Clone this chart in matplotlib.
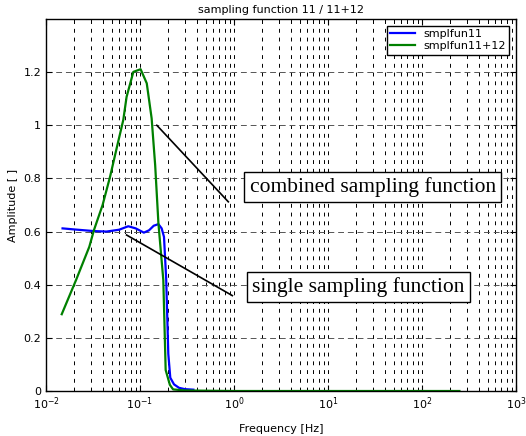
import numpy as np
import matplotlib.pyplot as plt
from matplotlib.ticker import LogLocator, NullFormatter

# single sampling function (smplfun11)
freq_single = [0.015, 0.02, 0.032, 0.044, 0.06, 0.075, 0.09, 0.11, 0.125, 0.14, 0.157,
               0.17, 0.18, 0.19, 0.2, 0.21, 0.23, 0.26, 0.3, 0.37]
amp_single = [0.612, 0.608, 0.602, 0.600, 0.607, 0.620, 0.612, 0.596, 0.605, 0.622, 0.628,
              0.612, 0.58, 0.42, 0.14, 0.05, 0.025, 0.012, 0.007, 0.005]

# combined sampling function (smplfun11+12)
freq_comb = [0.0147, 0.0209, 0.0289, 0.0324, 0.040, 0.048, 0.057, 0.0664, 0.072, 0.085,
             0.1015, 0.118, 0.133, 0.145, 0.157, 0.177, 0.1875, 0.208, 0.225, 0.3, 1, 10, 100, 250]
amp_comb = [0.289, 0.418, 0.543, 0.606, 0.70, 0.806, 0.92, 1.02, 1.107, 1.201,
            1.211, 1.158, 1.026, 0.85, 0.631, 0.418, 0.079, 0.023, 0.006, 0.002, 0.0, 0.0, 0.0, 0.0]

# annotation lines: (x0, y0, x1, y1)
arrow_combined = (0.151, 1.0, 0.87, 0.712)
arrow_single = (0.072, 0.587, 0.96, 0.359)

yticks = [0, 0.2, 0.4, 0.6, 0.8, 1.0, 1.2]
ylabels = ['0', '0.2', '0.4', '0.6', '0.8', '1', '1.2']

plt.rcParams['font.family'] = ['DejaVu Sans']

fig = plt.figure(figsize=(5.26, 4.36), dpi=100)
ax = fig.add_axes([46 / 526, 45 / 436, 470 / 526, 372 / 436])

ax.semilogx(freq_single, amp_single, color='#0000ff', lw=1.6, label='smplfun11')
ax.semilogx(freq_comb, amp_comb, color='#008000', lw=1.6, label='smplfun11+12')

ax.plot(arrow_combined[::2], arrow_combined[1::2], color='black', lw=1.2)
ax.plot(arrow_single[::2], arrow_single[1::2], color='black', lw=1.2)

ax.set_xlim(1e-2, 1e3)
ax.set_ylim(0, 1.4)
ax.set_yticks(yticks)
ax.set_yticklabels(ylabels)
ax.xaxis.set_major_locator(LogLocator(base=10, numticks=10))
ax.xaxis.set_minor_locator(LogLocator(base=10, subs=np.arange(2, 10), numticks=20))
ax.xaxis.set_minor_formatter(NullFormatter())

ax.grid(True, which='major', axis='y', ls=(0, (6, 4)), color='#555555', lw=0.7)
ax.grid(True, which='both', axis='x', ls=(0, (4, 5)), color='black', lw=0.7)

ax.tick_params(which='both', direction='in', top=True, right=True, labelsize=8)
ax.tick_params(which='major', length=4)
ax.tick_params(which='minor', length=2)
for s in ax.spines.values():
    s.set_linewidth(1.0)

ax.set_xlabel('Frequency [Hz]', fontsize=8, labelpad=8)
ax.set_ylabel('Amplitude [ ]', fontsize=8)
ax.set_title('sampling function 11 / 11+12', fontsize=8, pad=4)

ax.legend(loc='upper right', bbox_to_anchor=(1.0, 1.0), borderaxespad=0.6, fontsize=8,
          fancybox=False, edgecolor='black', framealpha=1, borderpad=0.3,
          handlelength=2.2, labelspacing=0.2)

box = dict(boxstyle='square,pad=0.25', fc='white', ec='black', lw=1.0)
ax.text(0.433, 0.548, 'combined sampling function', transform=ax.transAxes,
        family='Liberation Serif', fontsize=15.5, ha='left', va='center', bbox=box)
ax.text(0.439, 0.28, 'single sampling function', transform=ax.transAxes,
        family='Liberation Serif', fontsize=15.5, ha='left', va='center', bbox=box)

fig.savefig('out.png', dpi=100)
